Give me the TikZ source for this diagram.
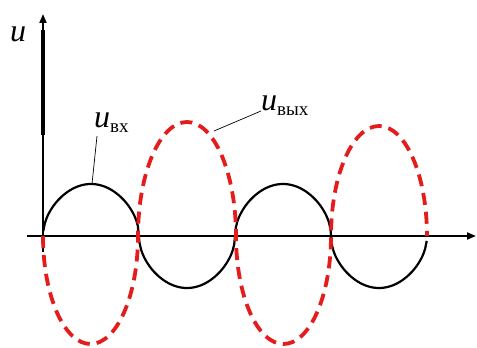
\documentclass[tikz,border=0pt]{standalone}
\usepackage{fontspec}
\setmainfont{Liberation Serif}
\usetikzlibrary{arrows.meta, positioning, calc}
\definecolor{outred}{RGB}{228,28,28}

\begin{document}
\begin{tikzpicture}[
    x=1pt, y=1pt,
    % --- BASE STYLES ---
    axis/.style={draw=black, line width=2pt, -{Triangle[length=9pt, width=7pt]}},
    lead/.style={draw=black, line width=0.7pt},
    lbl/.style={inner sep=0pt, anchor=west, font=\fontsize{32}{32}\selectfont\itshape},
    % --- CURVES ---
    inwave/.style={draw=black, line width=2.2pt},
    outwave/.style={draw=outred, line width=3.8pt, dash pattern=on 12pt off 7pt}
]
\useasboundingbox (0,0) rectangle (477,348);

% ==========================================
% AXES
% ==========================================
\coordinate (o) at (43,112);
\draw[axis] (27,112) -- (476,112);
\draw[axis] (43,96) -- (43,334);
\draw[black, line width=4pt] (43,213) -- (43,318);
\node[lbl] (uax) at (10,314) {u};

% ==========================================
% INPUT (BLACK) AND OUTPUT (RED) WAVES
% ==========================================
\draw[inwave] plot[domain=0.5:719.5, samples=240]
    ({43+\x/180*96}, {112+52*sign(sin(\x))*pow(abs(sin(\x)),0.5)});

\draw[outwave] (o) arc[start angle=180, end angle=360, x radius=47.5, y radius=108]
    arc[start angle=180, end angle=0, x radius=49, y radius=114]
    arc[start angle=180, end angle=360, x radius=47.5, y radius=108]
    arc[start angle=180, end angle=0, x radius=48, y radius=110];

% ==========================================
% LABELS
% ==========================================
\coordinate (bxpt) at (92,164);
\coordinate (vyxpt) at (214,217);
\node[lbl] (lbx) at (94,225) {u\raisebox{-5pt}{\fontsize{19}{19}\selectfont\upshape вх}};
\node[lbl] (lvyx) at (261,242) {u\raisebox{-5pt}{\fontsize{19}{19}\selectfont\upshape вых}};
\draw[lead] ([xshift=3pt, yshift=-3pt]lbx.south west) -- (bxpt);
\draw[lead] ([yshift=-5pt]lvyx.west) -- (vyxpt);

\end{tikzpicture}
\end{document}
